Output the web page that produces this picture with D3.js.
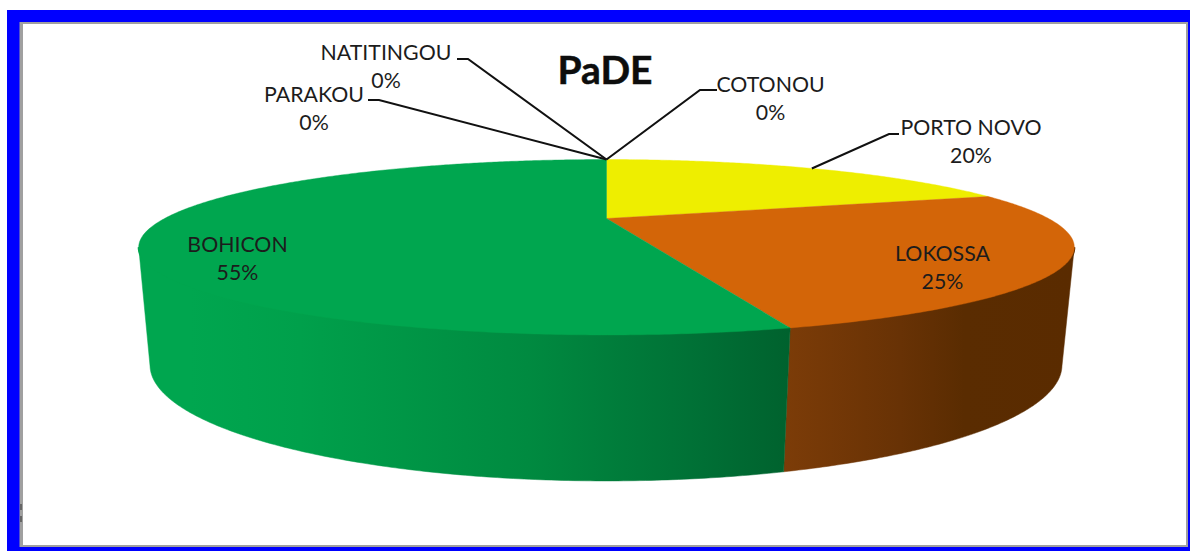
<!DOCTYPE html>
<html><head><meta charset="utf-8">
<script src="https://cdn.jsdelivr.net/npm/d3@7"></script>
<style>
html,body{margin:0;padding:0;background:#fff;overflow:hidden}
svg{display:block}
text{font-family:Lato,"Open Sans",sans-serif;fill:#1c1c1c}
</style></head><body>
<svg id="c" width="1190" height="551"></svg>
<script>
// Data
const chartTitle = "PaDE";
const categories = ["COTONOU", "PORTO NOVO", "LOKOSSA", "BOHICON", "PARAKOU", "NATITINGOU"];
const values = [0, 20, 25.4, 54.6, 0, 0];
const topColors = ["#4472c4", "#eeee00", "#d36508", "#00a64f", "#7f7f7f", "#5b9bd5"];

// Layout (separate from the data)
const W = 1190, H = 551;
const topDisc = {cx: 606.5, cy: 218.5, rx: 442, ry: 78.3, k: 0.3276};
const baseDisc = {cx: 606, cy: 328, rx: 432, ry: 104, k: 0.32};
const labelPos = {
  "COTONOU":    {x: 770.5, y: 92,  elbow: [717, 90],  knee: [700, 90]},
  "PORTO NOVO": {x: 971,   y: 135, elbow: [899, 134], knee: [889, 134]},
  "LOKOSSA":    {x: 942.5, y: 261},
  "BOHICON":    {x: 237.5, y: 252},
  "PARAKOU":    {x: 314,   y: 102, elbow: [368, 100], knee: [379, 100]},
  "NATITINGOU": {x: 386,   y: 60,  elbow: [457, 59],  knee: [468, 59]}
};

const svg = d3.select("#c");
const toRad = Math.PI / 180;

// Perspective projection of a unit disc onto the page.
function project(d, a) {
  const u = Math.sin(a), v = -Math.cos(a), w = 1 - d.k * v;
  return [d.cx + d.rx * u / w, d.cy + d.ry * v / w];
}
function arcPts(d, a0, a1) {
  const n = Math.max(2, Math.ceil(Math.abs(a1 - a0) / (0.5 * toRad)));
  return d3.range(n + 1).map(i => project(d, a0 + (a1 - a0) * i / n));
}
const line = d3.line();
const pie = d3.pie().sort(null).value(d => d)(values);

// Frame
svg.append("rect").attr("x", 7).attr("y", 10).attr("width", W - 7).attr("height", H - 10).attr("fill", "#0000ff");
svg.append("rect").attr("x", 19.5).attr("y", 22).attr("width", 1168.5).attr("height", 525).attr("fill", "#a0a0a0");
svg.append("rect").attr("x", 23).attr("y", 24).attr("width", 1163).attr("height", 521).attr("fill", "#ffffff");
svg.append("rect").attr("x", 20).attr("y", 504).attr("width", 2).attr("height", 6).attr("fill", "#666");
svg.append("rect").attr("x", 20).attr("y", 516).attr("width", 2).attr("height", 6).attr("fill", "#666");

// Side gradients, horizontal in page space
const defs = svg.append("defs");
function gradient(id, x1, x2, stops) {
  const g = defs.append("linearGradient").attr("id", id).attr("gradientUnits", "userSpaceOnUse")
    .attr("x1", x1).attr("x2", x2).attr("y1", 0).attr("y2", 0);
  stops.forEach(s => g.append("stop").attr("offset", s[0]).attr("stop-color", s[1]));
}
gradient("sideGreen", 138, 788, [[0, "#00a64f"], [0.08, "#00a64f"], [0.25, "#00a04b"], [0.6, "#008a40"], [0.87, "#006f35"], [1, "#00622e"]]);
gradient("sideOrange", 784, 1075, [[0, "#7c3c08"], [0.4, "#683205"], [0.62, "#5a2c01"], [1, "#5a2b00"]]);

// Visible wall: between the two tangent angles of the rim
const aRight = Math.PI - Math.acos(topDisc.k);
const aLeft = Math.PI + Math.acos(topDisc.k);
const sideFill = {"BOHICON": "url(#sideGreen)", "LOKOSSA": "url(#sideOrange)"};
pie.forEach((p, i) => {
  const a0 = Math.max(p.startAngle, aRight), a1 = Math.min(p.endAngle, aLeft);
  if (a1 <= a0) return;
  const rim = arcPts(topDisc, a0, a1);
  const pts = rim.concat(arcPts(baseDisc, a1, a0));
  svg.append("path").attr("d", line(pts) + "Z")
    .attr("fill", sideFill[categories[i]])
    .attr("stroke", sideFill[categories[i]]).attr("stroke-width", 0.5);
  // Overlap under the top face so no pale seam shows along the rim
  svg.append("path").attr("d", line(rim)).attr("fill", "none")
    .attr("stroke", sideFill[categories[i]]).attr("stroke-width", 2);
});

// Top face
pie.forEach((p, i) => {
  if (p.endAngle - p.startAngle <= 0) return;
  const pts = [[topDisc.cx, topDisc.cy]].concat(arcPts(topDisc, p.startAngle, p.endAngle));
  svg.append("path").attr("d", line(pts) + "Z").attr("fill", topColors[i])
    .attr("stroke", topColors[i]).attr("stroke-width", 0.4);
});

// Leader lines
pie.forEach((p, i) => {
  const pos = labelPos[categories[i]];
  if (!pos.elbow) return;
  const anchor = project(topDisc, (p.startAngle + p.endAngle) / 2);
  svg.append("path").attr("d", line([anchor, pos.knee, pos.elbow]))
    .attr("fill", "none").attr("stroke", "#111").attr("stroke-width", 2.1);
});

// Labels
categories.forEach((c, i) => {
  const pos = labelPos[c];
  const t = svg.append("text").attr("text-anchor", "middle").attr("font-size", 21.3);
  t.append("tspan").attr("x", pos.x).attr("y", pos.y).text(c);
  t.append("tspan").attr("x", pos.x).attr("y", pos.y + 28).text(Math.round(values[i]) + "%");
});

// Title
svg.append("text").attr("x", 605).attr("y", 84).attr("text-anchor", "middle")
  .attr("font-size", 39).attr("font-weight", 700).style("fill", "#0d0d0d")
  .style("stroke", "#0d0d0d").style("stroke-width", 0.5).text(chartTitle);
</script>
</body></html>
